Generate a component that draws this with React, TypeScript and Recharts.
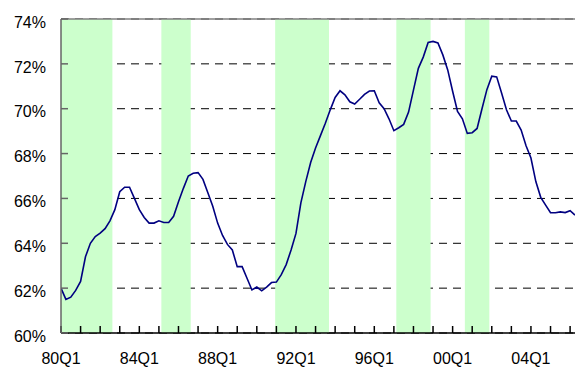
import React from 'react';
import { LineChart, Line, XAxis, YAxis, CartesianGrid, ReferenceArea, ReferenceLine } from 'recharts';

// Quarter labels 80Q1 .. 06Q2
const startYear = 1980;
const quarterCount = 106;
const quarters: string[] = Array.from({ length: quarterCount }, (_, i) => {
  const y = (startYear + Math.floor(i / 4)) % 100;
  return `${String(y).padStart(2, '0')}Q${(i % 4) + 1}`;
});

// Series values (%)
const values: number[] = [
  62.0, 61.5, 61.6, 61.9, 62.3, 63.4, 64.0, 64.3, 64.45, 64.65,
  65.0, 65.5, 66.3, 66.5, 66.5, 66.0, 65.5, 65.15, 64.9, 64.9,
  65.0, 64.93, 64.93, 65.2, 65.85, 66.45, 67.0, 67.12, 67.15, 66.85,
  66.25, 65.65, 64.9, 64.35, 63.95, 63.7, 62.96, 62.96, 62.44, 61.92,
  62.05, 61.88, 62.05, 62.25, 62.27, 62.6, 63.05, 63.7, 64.44, 65.8,
  66.75, 67.6, 68.25, 68.8, 69.35, 69.95, 70.5, 70.8, 70.62, 70.31,
  70.21, 70.42, 70.64, 70.79, 70.8, 70.26, 70.0, 69.55, 69.02, 69.15,
  69.3, 69.85, 70.83, 71.8, 72.3, 72.95, 73.0, 72.93, 72.4, 71.73,
  70.78, 69.88, 69.55, 68.9, 68.93, 69.12, 70.0, 70.85, 71.45, 71.42,
  70.7, 69.95, 69.45, 69.45, 69.05, 68.35, 67.8, 66.75, 66.05, 65.7,
  65.36, 65.36, 65.4, 65.37, 65.45, 65.26,
];

// Shaded periods, in quarter-index units from 80Q1
const bandStarts: number[] = [0, 20.5, 43.75, 68.5, 82.5];
const bandEnds: number[] = [10.5, 26.5, 54.75, 75.5, 87.5];

const yTicks: number[] = [60, 62, 64, 66, 68, 70, 72, 74];
const xTicks: number[] = Array.from({ length: 27 }, (_, i) => i * 4).filter((v) => v < quarterCount);

const data = values.map((v, i) => ({ i, q: quarters[i], v }));

const font = { fontFamily: '"Liberation Sans", Arial, sans-serif', fontSize: 16, fill: '#000' };

export default function App() {
  return (
    <div style={{ position: 'absolute', left: 0, top: 0, background: '#fff' }}>
      <LineChart width={575} height={370} data={data} margin={{ top: 19, right: 0, bottom: 0, left: 0 }}>
        <CartesianGrid horizontal vertical={false} stroke="#000" strokeDasharray="8 6" />
        {bandStarts.map((s, k) => (
          <ReferenceArea key={k} x1={s} x2={bandEnds[k]} y1={60} y2={74} fill="#CCFFCC" fillOpacity={1} stroke="none" />
        ))}
        <ReferenceLine y={74} stroke="#808080" strokeWidth={1.5} />
        <XAxis
          dataKey="i"
          type="number"
          domain={[0, quarterCount - 1]}
          ticks={xTicks}
          interval={0}
          height={37}
          tickSize={-7}
          tickMargin={27}
          tickFormatter={(v: number) => (v % 16 === 0 ? quarters[v] : '')}
          stroke="#000"
          strokeWidth={1.5}
          tick={font}
          tickLine={{ stroke: '#000' }}
          allowDataOverflow
        />
        <YAxis
          type="number"
          domain={[60, 74]}
          ticks={yTicks}
          interval={0}
          width={61}
          tickSize={-7}
          tickMargin={22}
          tickFormatter={(v: number) => `${v}%`}
          stroke="#666"
          strokeWidth={1.5}
          tick={{ ...font, dy: 3 }}
          tickLine={{ stroke: '#666' }}
        />
        <Line type="linear" dataKey="v" stroke="#000080" strokeWidth={1.6} dot={false} isAnimationActive={false} />
      </LineChart>
    </div>
  );
}
